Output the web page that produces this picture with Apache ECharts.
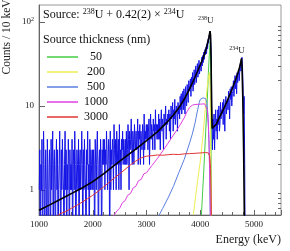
<!DOCTYPE html>
<html><head><meta charset="utf-8">
<script src="https://cdn.jsdelivr.net/npm/echarts@6/dist/echarts.min.js"></script>
<style>html,body{margin:0;padding:0;background:#fff}#c{width:290px;height:251px}</style>
</head><body><div id="c"></div>
<script>
// ---- data ----
const binStart = 1000;          // keV, first bin
const binWidth = 10;            // keV
const spectrumCounts = [
 1,3,0,2,1,4,0,1,5,2,0,1,3,1,0,4,2,0,1,3,
 2,0,4,1,1,5,0,2,3,1,0,2,4,1,3,0,1,2,5,1,
 0,3,1,4,2,1,0,2,5,1,3,0,2,1,4,2,0,3,1,2,
 1,4,0,2,3,1,5,2,0,1,3,2,1,4,0,2,3,1,2,5,
 2,0,3,1,4,2,1,0,3,2,5,1,2,0,4,1,3,2,1,3,
 1,3,2,0,4,2,1,3,5,2,0,2,3,1,4,2,0,3,2,4,
 2,4,1,3,2,5,3,1,2,4,3,0,5,1,3,2,4,3,1,6,
 3,2,4,1,5,3,2,4,1,6,2,3,1,4,3,5,2,4,3,2,
 4,2,5,2,3,6,4,1,5,3,4,7,3,2,5,4,2,6,4,3,
 5,3,4,7,2,5,4,6,2,5,4,3,6,5,2,8,3,5,4,6,
 4,6,3,5,7,2,5,8,4,6,5,3,7,5,6,3,9,5,6,4,
 6,4,8,4,7,3,6,9,5,7,6,3,8,6,7,10,4,7,6,8,
 7,9,5,8,4,10,7,8,11,5,9,7,12,6,8,10,9,5,11,8,
 10,7,13,9,14,8,11,15,9,16,12,8,17,12,10,18,14,11,20,15,
 16,21,13,22,17,25,15,20,27,18,23,30,19,25,32,22,27,35,24,30,
 33,26,38,30,40,33,44,36,47,41,
 50,42,55,48,62,56,70,64,78,82,
 38,5,3,7,4,8,3,6,9,5,
 7,4,9,6,10,5,6,11,7,9,
 8,11,6,12,9,5,11,13,8,10,
 12,9,15,11,7,16,12,17,10,14,
 15,20,13,18,23,16,21,14,25,19,
 23,27,20,29,32,26,35,38,28,16,
 8,13,2,0,0,0
];
const fitEnergy = [1000,1200,1400,1600,1800,2000,2200,2400,2600,2800,3000,3200,3400,3500,3600,3700,3800,3900,4000,4050,4100,4130,4160,4180,4190,4200,4210,4220,4250,4300,4350,4400,4450,4500,4550,4600,4650,4700,4730,4750,4765,4775,4790,4805,4820];
const fitValues = [0.57,0.66,0.77,0.9,1.05,1.25,1.55,1.95,2.45,3.05,3.85,4.9,6.6,7.8,9.5,12,16,22,31,37,46,55,66,78,70,35,10,5.4,5.5,6.1,7.2,8.3,9.7,11.5,13.8,16.5,20,25,29,33,37,30,12,3,0.4];

const thicknessNames = ['50','200','500','1000','3000'];
const e50  = [4020,4060,4100,4130,4150,4170,4185,4195,4200,4205];
const v50  = [0.5,1.5,5,12,25,45,60,30,3,0.4];
const e200 = [3870,3950,4000,4050,4090,4120,4150,4170,4185,4195,4205];
const v200 = [0.5,1.3,2.2,4.5,9,15,22,25,15,2,0.4];
const e500 = [3220,3300,3400,3500,3600,3700,3800,3850,3900,3950,3980,4000,4050,4100,4120,4140,4160,4175,4185];
const v500 = [0.48,0.6,0.8,1.1,1.6,2.3,3.6,4.6,6.2,9,11,12,12.5,12.2,11,8,4,1.5,0.4];
const e1000 = [2380,2450,2500,2550,2600,2650,2700,2750,2800,2850,2900,2950,3000,3100,3200,3300,3400,3500,3600,3700,3750,3800,3850,3900,4000,4080,4110,4130,4150,4165,4180,4190];
const v1000 = [0.48,0.56,0.6,0.7,0.74,0.86,0.9,1.05,1.1,1.28,1.33,1.55,1.6,1.95,2.35,2.9,3.6,4.5,5.6,7.2,8.5,9.6,10.2,10.4,10.5,10.6,10.3,9,6,3,1,0.4];
const e3000 = [1300,1400,1500,1600,1700,1800,1900,2000,2100,2200,2300,2400,2500,2600,2700,2800,2900,3000,3100,3200,3300,3400,3500,3600,3700,3800,3900,4000,4100,4150,4175,4190,4200,4210];
const v3000 = [0.47,0.52,0.55,0.6,0.65,0.71,0.78,0.86,0.96,1.08,1.22,1.38,1.55,1.75,1.98,2.2,2.4,2.52,2.55,2.6,2.58,2.62,2.65,2.63,2.68,2.7,2.72,2.75,2.78,2.75,2.5,1.8,0.9,0.3];
const thicknessColors = ['#44cc44','#eeee55','#5a7fe0','#e040e0','#e03535'];

const xTickLabels = [1000,2000,3000,4000,5000];
const yMajor = [1,10,100];
const yMinor = [0.6,0.7,0.8,0.9,2,3,4,5,6,7,8,9,20,30,40,50,60,70,80,90];

// ---- chart ----
const serif = 'Liberation Serif';
const chart = echarts.init(document.getElementById('c'), null, {renderer:'canvas'});
const zip = (a,b) => a.map((x,i)=>[x,b[i]]);
const thicknessE = [e50,e200,e500,e1000,e3000];
const thicknessV = [v50,v200,v500,v1000,v3000];

const series = [{
  name:'spectrum', type:'line', showSymbol:false, symbol:'none', animation:false,
  data: spectrumCounts.map((c,i)=>[binStart + i*binWidth + binWidth/2, c>0?c:0.1]),
  lineStyle:{color:'#1414e6', width:1}, z:2
}];
thicknessNames.forEach((n,k)=>series.push({
  name:n, type:'line', symbol:'none', animation:false,
  data: zip(thicknessE[k], thicknessV[k]),
  lineStyle:{color:thicknessColors[k], width:1}, itemStyle:{color:thicknessColors[k]}, z:3
}));
series.push({
  name:'fit', type:'line', symbol:'none', animation:false,
  data: zip(fitEnergy, fitValues),
  lineStyle:{color:'#000', width:1.6}, z:4
});

chart.setOption({
  animation:false,
  grid:{left:39, right:9, top:5, bottom:36, show:true, borderColor:'#999', borderWidth:1},
  xAxis:{type:'value', min:1000, max:5500, interval:1000,
    axisLine:{lineStyle:{color:'#666'}},
    axisTick:{inside:true, length:5, lineStyle:{color:'#666'}},
    minorTick:{show:true, splitNumber:5, length:3, lineStyle:{color:'#666'}},
    splitLine:{show:false},
    axisLabel:{fontFamily:serif, fontSize:9, color:'#222', margin:5,
      formatter:v => xTickLabels.includes(v) ? String(v) : ''}
  },
  yAxis:[{type:'log', logBase:10, min:0.5, max:160,
    axisLine:{show:true, lineStyle:{color:'#666'}},
    axisTick:{inside:true, length:6, customValues:yMajor, lineStyle:{color:'#666'}},
    splitLine:{show:false},
    axisLabel:{customValues:yMajor, fontFamily:serif, fontSize:9, color:'#222', margin:5,
      formatter:v => v===100 ? '{b|10}{s|2}' : String(v),
      rich:{b:{fontFamily:serif, fontSize:9, color:'#222'}, s:{fontFamily:serif, fontSize:6, color:'#222', padding:[0,0,6,0]}}}
  },{type:'log', logBase:10, min:0.5, max:160,
    axisLine:{show:false}, splitLine:{show:false}, axisLabel:{show:false},
    axisTick:{inside:true, length:3, customValues:yMinor, lineStyle:{color:'#666'}}
  }],
  legend:{orient:'vertical', left:47, top:50, icon:'rect', itemWidth:31, itemHeight:1.5, itemGap:1, padding:0,
    data:thicknessNames, selectedMode:false,
    textStyle:{fontFamily:serif, fontSize:12, color:'#111', lineHeight:14,
      rich:{a:{width:26, align:'center', fontFamily:serif, fontSize:12, lineHeight:14, color:'#111'}}},
    formatter:n => '{a|'+n+'}'
  },
  series:series,
  graphic:[
    {type:'text', id:'title', left:43, top:8, style:{
      text:'{n|Source: }{s|238}{n|U + 0.42(2) × }{s|234}{n|U}',
      rich:{n:{fontFamily:serif, fontSize:12, fill:'#111'}, s:{fontFamily:serif, fontSize:8, fill:'#111', padding:[0,0,5,0]}}}},
    {type:'text', id:'legtitle', left:43, top:34, style:{text:'Source thickness (nm)', fontFamily:serif, fontSize:12, fill:'#111'}},
    {type:'text', id:'ytitle', x:7, y:37, rotation:Math.PI/2, style:{text:'Counts / 10 keV', fontFamily:serif, fontSize:11.5, fill:'#222', textAlign:'center', textVerticalAlign:'middle'}},
    {type:'text', id:'xtitle', right:9, top:234, style:{text:'Energy (keV)', fontFamily:serif, fontSize:12, fill:'#222'}}
  ]
});

const p238 = chart.convertToPixel({gridIndex:0}, [4100, 79]);
const p234 = chart.convertToPixel({gridIndex:0}, [4680, 37]);
const peakRich = {s:{fontFamily:serif, fontSize:6, fill:'#222', padding:[0,0,4,0]}, n:{fontFamily:serif, fontSize:9, fill:'#222'}};
chart.setOption({graphic:[
  {type:'text', id:'u238', x:p238[0], y:p238[1]-10, style:{text:'{s|238}{n|U}', rich:peakRich, textAlign:'center', textVerticalAlign:'middle'}},
  {type:'text', id:'u234', x:p234[0], y:p234[1]-8, style:{text:'{s|234}{n|U}', rich:peakRich, textAlign:'center', textVerticalAlign:'middle'}}
]});
</script>
</body></html>
